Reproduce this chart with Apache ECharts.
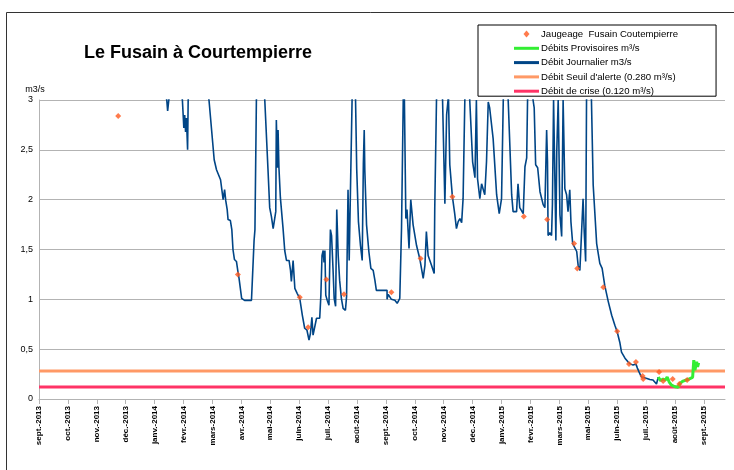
<!DOCTYPE html>
<html>
<head>
<meta charset="utf-8">
<script src="https://cdn.jsdelivr.net/npm/echarts@6/dist/echarts.min.js"></script>
<style>
  html, body { margin: 0; padding: 0; background: #fff; }
  #chart { width: 734px; height: 470px; }
</style>
</head>
<body>
<div id="chart"></div>
<script>
// x = position en mois depuis la graduation "sept.-2013", y = débit en m3/s
var tickLabels = ['sept.-2013', 'oct.-2013', 'nov.-2013', 'déc.-2013', 'janv.-2014', 'févr.-2014',
  'mars-2014', 'avr.-2014', 'mai-2014', 'juin-2014', 'juil.-2014', 'août-2014',
  'sept.-2014', 'oct.-2014', 'nov.-2014', 'déc.-2014', 'janv.-2015', 'févr.-2015',
  'mars-2015', 'mai-2015', 'juin-2015', 'juil.-2015', 'août-2015', 'sept.-2015'];

var seuilAlerte = 0.28;
var seuilCrise = 0.12;
var xMax = 23.73;

// jaugeages ponctuels
var jaugeages = [
  [2.74, 2.84], [6.88, 1.25], [9.02, 1.02], [9.31, 0.72], [9.94, 1.20], [10.55, 1.05],
  [12.19, 1.07], [13.2, 1.41], [14.3, 2.03], [16.77, 1.83], [17.58, 1.80], [18.51, 1.56],
  [18.62, 1.31], [19.52, 1.12], [20.0, 0.68], [20.41, 0.35], [20.65, 0.37], [20.88, 0.23],
  [20.90, 0.20], [21.45, 0.27], [21.59, 0.18], [21.92, 0.20], [22.15, 0.15], [22.42, 0.19]
];

// débit journalier (validé)
var debitJournalier = [
  [4.18, 3.3], [4.42, 3.0], [4.45, 2.89], [4.49, 3.0], [4.73, 3.4], [4.96, 3.0],
  [5.01, 2.72], [5.04, 2.85], [5.07, 2.68], [5.10, 2.82], [5.14, 2.50], [5.16, 3.0],
  [5.5, 3.6], [5.88, 3.0], [6.06, 2.40], [6.14, 2.30], [6.19, 2.29], [6.28, 2.20],
  [6.32, 2.20], [6.37, 2.00], [6.42, 2.10], [6.46, 1.99], [6.51, 1.90], [6.54, 1.80],
  [6.62, 1.79], [6.67, 1.70], [6.71, 1.50], [6.76, 1.40], [6.83, 1.38], [6.88, 1.28],
  [6.92, 1.21], [6.97, 1.19], [7.01, 1.01], [7.11, 0.99], [7.15, 0.97], [7.20, 0.99],
  [7.35, 0.99], [7.38, 1.19], [7.44, 1.59], [7.47, 1.70], [7.52, 3.0], [7.66, 3.5],
  [7.81, 3.0], [7.92, 2.31], [7.98, 1.92], [8.04, 1.83], [8.10, 1.71], [8.16, 1.70],
  [8.19, 1.88], [8.21, 2.80], [8.25, 2.32], [8.27, 2.70], [8.30, 2.32], [8.35, 2.02],
  [8.44, 1.72], [8.50, 1.49], [8.56, 1.39], [8.65, 1.39], [8.70, 1.29], [8.73, 1.18],
  [8.79, 1.39], [8.85, 1.11], [8.93, 1.06], [9.02, 1.01], [9.11, 0.84], [9.19, 0.71],
  [9.27, 0.69], [9.34, 0.59], [9.39, 0.66], [9.44, 0.82], [9.48, 0.64], [9.54, 0.66],
  [9.60, 0.81], [9.71, 0.81], [9.75, 1.04], [9.79, 1.44], [9.83, 1.49], [9.86, 1.37],
  [9.89, 1.49], [9.92, 1.04], [9.97, 0.99], [10.03, 0.94], [10.08, 1.70], [10.12, 1.64],
  [10.17, 1.31], [10.21, 1.01], [10.26, 0.93], [10.30, 1.90], [10.35, 1.44], [10.40, 1.19],
  [10.46, 1.01], [10.52, 0.91], [10.60, 0.89], [10.64, 1.03], [10.69, 2.10], [10.73, 1.39],
  [10.79, 1.41], [10.83, 3.0], [10.89, 3.5], [10.95, 3.0], [10.99, 2.31], [11.05, 1.78],
  [11.12, 1.54], [11.18, 1.39], [11.22, 2.36], [11.25, 2.70], [11.27, 2.30], [11.33, 1.75],
  [11.41, 1.48], [11.48, 1.31], [11.56, 1.29], [11.62, 1.19], [11.67, 1.09], [12.04, 1.09],
  [12.04, 1.00], [12.08, 1.05], [12.19, 1.00], [12.31, 0.99], [12.39, 0.96], [12.48, 1.01],
  [12.54, 1.71], [12.60, 3.0], [12.62, 3.3], [12.64, 3.0], [12.69, 1.81], [12.73, 1.90],
  [12.80, 1.51], [12.86, 2.00], [12.94, 1.75], [13.06, 1.54], [13.17, 1.41], [13.29, 1.21],
  [13.35, 1.34], [13.40, 1.68], [13.46, 1.44], [13.58, 1.34], [13.67, 1.26], [13.69, 1.92],
  [13.75, 3.0], [13.85, 3.5], [13.96, 3.0], [14.04, 1.96], [14.10, 2.85], [14.15, 3.0],
  [14.16, 3.1], [14.21, 2.35], [14.30, 2.03], [14.38, 1.86], [14.44, 1.71], [14.50, 1.78],
  [14.56, 1.81], [14.62, 1.77], [14.67, 2.01], [14.73, 3.0], [14.82, 3.5], [14.90, 3.0],
  [15.00, 2.38], [15.08, 2.22], [15.13, 3.0], [15.17, 2.21], [15.25, 2.01], [15.31, 2.16],
  [15.36, 2.15], [15.42, 2.05], [15.48, 2.38], [15.54, 2.98], [15.59, 2.92], [15.71, 2.61],
  [15.83, 2.05], [15.92, 1.86], [15.94, 1.85], [16.00, 2.01], [16.06, 3.0], [16.15, 3.5],
  [16.23, 3.0], [16.35, 2.05], [16.40, 1.88], [16.52, 1.88], [16.57, 2.16], [16.63, 1.92],
  [16.69, 1.90], [16.75, 1.86], [16.81, 2.33], [16.87, 2.42], [16.90, 3.0], [17.0, 3.5],
  [17.09, 3.0], [17.13, 2.92], [17.18, 2.35], [17.25, 2.32], [17.33, 2.08], [17.44, 1.95],
  [17.50, 1.92], [17.56, 2.70], [17.59, 2.38], [17.61, 1.64], [17.67, 1.67], [17.73, 1.64],
  [17.76, 1.95], [17.80, 3.0], [17.82, 3.0], [17.88, 1.59], [17.91, 2.48], [17.96, 3.0],
  [18.02, 1.85], [18.08, 1.63], [18.13, 3.0], [18.19, 2.11], [18.25, 2.05], [18.30, 1.88],
  [18.36, 2.10], [18.40, 1.78], [18.46, 1.56], [18.60, 1.48], [18.65, 1.34], [18.71, 1.29],
  [18.77, 1.28], [18.82, 2.01], [18.86, 1.68], [18.91, 1.38], [18.94, 3.0], [19.02, 3.5],
  [19.11, 3.0], [19.17, 2.15], [19.29, 1.56], [19.40, 1.36], [19.48, 1.31], [19.57, 1.14],
  [19.69, 0.98], [19.81, 0.84], [19.92, 0.74], [20.00, 0.675], [20.09, 0.57], [20.15, 0.47],
  [20.21, 0.47], [20.27, 0.41], [20.38, 0.37], [20.47, 0.35], [20.55, 0.34], [20.65, 0.35],
  [20.70, 0.31], [20.76, 0.27], [20.84, 0.22], [20.90, 0.21], [21.03, 0.205], [21.13, 0.195],
  [21.24, 0.19], [21.30, 0.20], [21.36, 0.15], [21.42, 0.22]
];

// débits provisoires
var debitProvisoire = [
  [21.42, 0.22], [21.50, 0.185], [21.59, 0.20], [21.67, 0.19], [21.73, 0.22], [21.80, 0.17],
  [21.88, 0.14], [22.00, 0.123], [22.11, 0.117], [22.17, 0.157], [22.28, 0.18], [22.46, 0.198],
  [22.61, 0.218], [22.65, 0.39], [22.69, 0.29], [22.75, 0.374], [22.78, 0.324], [22.82, 0.364]
];

var tickValues = tickLabels.map(function (l, i) { return i; });
var police = 'Liberation Sans';
var lineIcon = 'path://M0,0H25V3H0Z';
var diamondIcon = 'path://M3,0L6,3.5L3,7L0,3.5Z';

var chart = echarts.init(document.getElementById('chart'));

var option = {
  animation: false,
  backgroundColor: '#fff',
  textStyle: { fontFamily: police },
  title: {
    text: 'Le Fusain à Courtempierre',
    left: 84,
    top: 44,
    padding: 0,
    textStyle: { fontFamily: police, fontSize: 18, fontWeight: 'bold', color: '#000' }
  },
  legend: {
    orient: 'vertical',
    left: 478,
    top: 25,
    padding: [4, 38, 0, 36],
    itemWidth: 25,
    itemHeight: 7,
    itemGap: 4.3,
    backgroundColor: '#fff',
    borderColor: '#000',
    borderWidth: 1,
    borderRadius: 0,
    itemStyle: { borderWidth: 0 },
    textStyle: { fontFamily: police, fontSize: 9.6, color: '#000', padding: [0, 0, 0, -3] },
    data: [
      { name: 'Jaugeage  Fusain Coutempierre', icon: diamondIcon },
      { name: 'Débits Provisoires m³/s', icon: lineIcon },
      { name: 'Débit Journalier m3/s', icon: lineIcon },
      { name: "Débit Seuil d'alerte (0.280 m³/s)", icon: lineIcon },
      { name: 'Débit de crise (0.120 m³/s)', icon: lineIcon }
    ]
  },
  grid: { left: 39, right: 9, top: 100, bottom: 71, containLabel: false },
  xAxis: {
    type: 'value',
    min: 0,
    max: xMax,
    interval: 1,
    splitLine: { show: false },
    axisLine: { show: true, lineStyle: { color: '#b3b3b3' } },
    axisTick: { show: true, length: 5, customValues: tickValues, lineStyle: { color: '#b3b3b3' } },
    axisLabel: {
      customValues: tickValues,
      rotate: 90,
      margin: 7,
      fontSize: 8,
      fontWeight: 'bold',
      color: '#000',
      formatter: function (v) { return tickLabels[Math.round(v)] || ''; }
    }
  },
  yAxis: {
    type: 'value',
    min: 0,
    max: 3,
    interval: 0.5,
    name: 'm3/s',
    nameLocation: 'end',
    nameGap: 6,
    nameTextStyle: { fontSize: 9, color: '#000', align: 'center', padding: [0, 8, 0, 0] },
    axisLine: { show: true, lineStyle: { color: '#b3b3b3' } },
    axisTick: { show: false },
    splitLine: { show: true, lineStyle: { color: '#b3b3b3', width: 1 } },
    axisLabel: {
      fontSize: 9,
      color: '#000',
      margin: 6,
      formatter: function (v) { return String(v).replace('.', ','); }
    }
  },
  series: [
    {
      name: "Débit Seuil d'alerte (0.280 m³/s)",
      type: 'line',
      data: [[0, seuilAlerte], [xMax, seuilAlerte]],
      symbol: 'none',
      color: '#ff9966',
      lineStyle: { color: '#ff9966', width: 3 },
      z: 2
    },
    {
      name: 'Débit de crise (0.120 m³/s)',
      type: 'line',
      data: [[0, seuilCrise], [xMax, seuilCrise]],
      symbol: 'none',
      color: '#ff3366',
      lineStyle: { color: '#ff3366', width: 3 },
      z: 2
    },
    {
      name: 'Débit Journalier m3/s',
      type: 'line',
      data: debitJournalier,
      symbol: 'none',
      color: '#004586',
      lineStyle: { color: '#004586', width: 1.6 },
      clip: true,
      z: 3
    },
    {
      name: 'Débits Provisoires m³/s',
      type: 'line',
      data: debitProvisoire,
      symbol: 'none',
      color: '#33ee33',
      lineStyle: { color: '#33ee33', width: 3 },
      z: 4
    },
    {
      name: 'Jaugeage  Fusain Coutempierre',
      type: 'scatter',
      data: jaugeages,
      symbol: 'diamond',
      symbolSize: 6,
      color: '#ff5a1f',
      itemStyle: { color: '#ff5a1f' },
      z: 5
    }
  ],
  graphic: [
    {
      type: 'rect',
      silent: true,
      shape: { x: 6.5, y: 12.5, width: 760, height: 500 },
      style: { fill: 'none', stroke: '#333', lineWidth: 1 },
      z: 100
    }
  ]
};

chart.setOption(option);
</script>
</body>
</html>
